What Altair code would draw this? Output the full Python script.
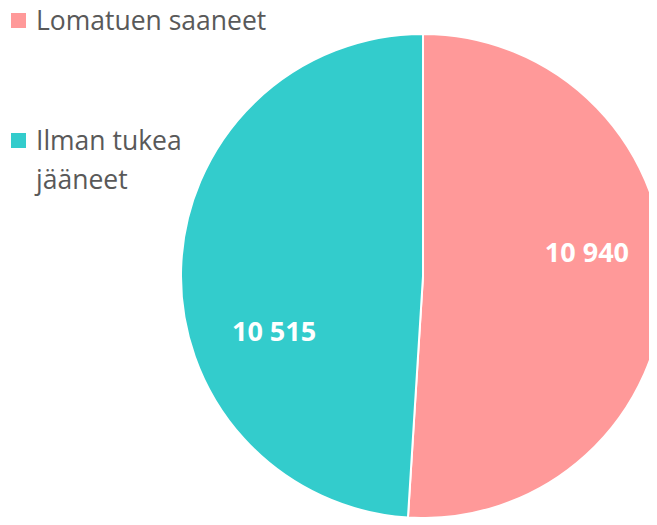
import altair as alt
import pandas as pd

categories = ["Lomatuen saaneet", "Ilman tukea jääneet"]
values = [10940, 10515]
labels = ["10 940", "10 515"]
colors = ["#FF9999", "#33CCCC"]

df = pd.DataFrame({
    "category": categories,
    "value": values,
    "label": labels,
    "order": list(range(len(categories))),
})

CX, CY, R = 415, 268, 242
LABEL_R = 165

color_scale = alt.Scale(domain=categories, range=colors)

base = alt.Chart(df).encode(
    theta=alt.Theta("value:Q", stack=True),
    order=alt.Order("order:Q", sort="ascending"),
)

pie = base.mark_arc(stroke="white", strokeWidth=2).encode(
    color=alt.Color("category:N", scale=color_scale, legend=None),
    x=alt.value(CX),
    y=alt.value(CY),
    radius=alt.value(R),
)


def label_layer(idx, dx, dy):
    return base.mark_text(
        font="Open Sans", fontSize=27, fontWeight="bold", color="white",
        dx=dx, dy=dy,
    ).encode(
        text="label:N",
        x=alt.value(CX),
        y=alt.value(CY),
        radius=alt.value(LABEL_R),
        opacity=alt.condition(alt.datum.order == idx, alt.value(1), alt.value(0)),
    )


text_pink = label_layer(0, -1, -27)
text_teal = label_layer(1, 16, 62)

legend_y = alt.Y(
    "category:N",
    scale=alt.Scale(type="point", domain=categories, range=[12.5, 132.5], padding=0),
    axis=None,
)

legend_sq = alt.Chart(df).mark_square(size=225, opacity=1, filled=True).encode(
    x=alt.value(10.5),
    y=legend_y,
    color=alt.Color("category:N", scale=color_scale, legend=None),
)

legend_txt = alt.Chart(df).transform_calculate(
    lines="length(datum.category) > 16 ? substring(datum.category, 0, lastindexof(datum.category, ' ')) + '\\n' + substring(datum.category, lastindexof(datum.category, ' ') + 1) : datum.category"
).mark_text(
    font="Open Sans", fontSize=26.5, color="#595959", align="left",
    baseline="alphabetic", dy=9.5, lineHeight=39, lineBreak="\n",
).encode(
    x=alt.value(28),
    y=legend_y,
    text="lines:N",
)

chart = alt.layer(pie, text_pink, text_teal, legend_sq, legend_txt).properties(
    width=641, height=509, padding=0,
    autosize=alt.AutoSizeParams(type="none"),
).configure_view(stroke=None)

chart.save("out.html", embed_options={"renderer": "svg", "actions": False})
